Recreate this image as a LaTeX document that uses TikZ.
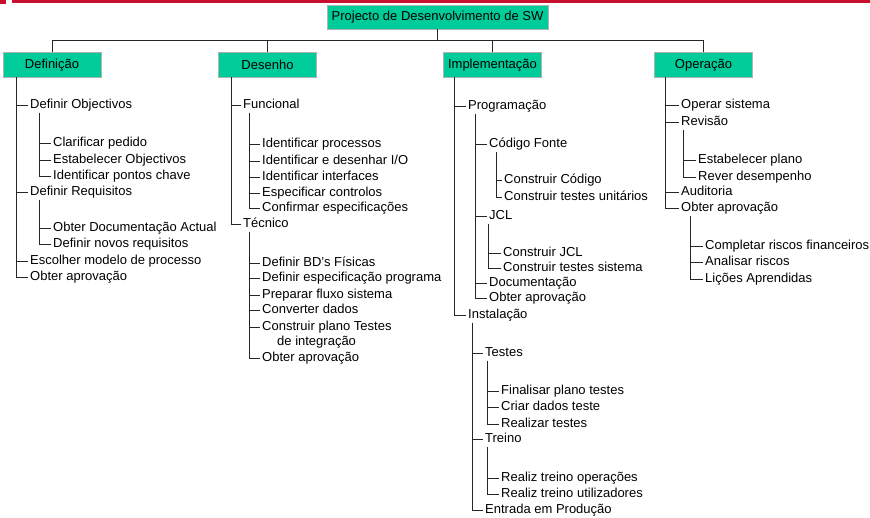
\documentclass[tikz,border=0pt]{standalone}
\usepackage{fontspec}
\setmainfont{Liberation Sans}
\definecolor{boxgreen}{RGB}{0,204,153}
\definecolor{barred}{RGB}{200,16,46}
\begin{document}
\begin{tikzpicture}[x=1pt,y=-1pt,
  lbl/.style={anchor=west, inner sep=2pt, font=\fontsize{13}{15}\selectfont, text height=9.5pt, text depth=3pt},
  hbox/.style={draw=black!30, line width=0.6pt, fill=boxgreen, minimum width=98pt, minimum height=25pt, inner sep=0pt, font=\fontsize{13}{15}\selectfont},
  conn/.style={draw=black!85, line width=0.9pt}]
\useasboundingbox (0,0) rectangle (870,518);
\fill[barred] (0,0) rectangle (6,4);
\fill[barred] (12,0) rectangle (870,3);

% headers
\node[hbox, minimum width=221pt, minimum height=24pt] (root) at (437.5,17) {Projecto de Desenvolvimento de SW};
\node[hbox] (def) at (52,65) {Definição};
\node[hbox] (des) at (267.5,65) {Desenho};
\node[hbox] (imp) at (492.5,65) {Implementação};
\node[hbox] (ope) at (703.5,65) {Operação};
\coordinate (bar) at (0,40);
\draw[conn] (root.south) -- (root.south |- bar);
\draw[conn] (def.north) -- (def.north |- bar) -- (ope.north |- bar) -- (ope.north);
\draw[conn] (des.north) -- (des.north |- bar);
\draw[conn] (imp.north) -- (imp.north |- bar);

% ---- Definição
\coordinate (tdef) at (16,77.5);
\node[lbl] (d1) at (28,105) {Definir Objectivos};
\coordinate (td1) at (39,113);
\node[lbl] (d11) at (51,143) {Clarificar pedido};
\node[lbl] (d12) at (51,160) {Estabelecer Objectivos};
\node[lbl] (d13) at (51,176) {Identificar pontos chave};
\node[lbl] (d2) at (28,192) {Definir Requisitos};
\coordinate (td2) at (39,200);
\node[lbl] (d21) at (51,228) {Obter Documentação Actual};
\node[lbl] (d22) at (51,244) {Definir novos requisitos};
\node[lbl] (d3) at (28,261) {Escolher modelo de processo};
\node[lbl] (d4) at (28,277) {Obter aprovação};
\foreach \n in {d1,d2,d3,d4} \draw[conn] (tdef) |- (\n.west);
\foreach \n in {d11,d12,d13} \draw[conn] (td1) |- (\n.west);
\foreach \n in {d21,d22} \draw[conn] (td2) |- (\n.west);

% ---- Desenho
\coordinate (tdes) at (231,77.5);
\node[lbl] (e1) at (241,105) {Funcional};
\coordinate (te1) at (249,113);
\node[lbl] (e11) at (260,144) {Identificar processos};
\node[lbl] (e12) at (260,161) {Identificar e desenhar I/O};
\node[lbl] (e13) at (260,177) {Identificar interfaces};
\node[lbl] (e14) at (260,193) {Especificar controlos};
\node[lbl] (e15) at (260,208) {Confirmar especificações};
\node[lbl] (e2) at (241,224) {Técnico};
\coordinate (te2) at (249,232);
\node[lbl] (e21) at (260,263) {Definir BD's Físicas};
\node[lbl] (e22) at (260,278) {Definir especificação programa};
\node[lbl] (e23) at (260,295) {Preparar fluxo sistema};
\node[lbl] (e24) at (260,310) {Converter dados};
\node[lbl] (e25) at (260,327) {Construir plano Testes};
\node[lbl] (e25b) at (275,342) {de integração};
\node[lbl] (e26) at (260,358) {Obter aprovação};
\foreach \n in {e1,e2} \draw[conn] (tdes) |- (\n.west);
\foreach \n in {e11,e12,e13,e14,e15} \draw[conn] (te1) |- (\n.west);
\foreach \n in {e21,e22,e23,e24,e25,e26} \draw[conn] (te2) |- (\n.west);

% ---- Implementação
\coordinate (timp) at (454,77.5);
\node[lbl] (i1) at (466,106) {Programação};
\coordinate (ti1) at (475,114);
\node[lbl] (i11) at (487,144) {Código Fonte};
\coordinate (ti11) at (496,152);
\node[lbl] (i111) at (502,180) {Construir Código};
\node[lbl] (i112) at (502,197) {Construir testes unitários};
\node[lbl] (i12) at (487,216) {JCL};
\coordinate (ti12) at (488,224);
\node[lbl] (i121) at (501,253) {Construir JCL};
\node[lbl] (i122) at (501,268) {Construir testes sistema};
\node[lbl] (i13) at (487,283) {Documentação};
\node[lbl] (i14) at (487,298) {Obter aprovação};
\node[lbl] (i2) at (466,315) {Instalação};
\coordinate (ti2) at (472,323);
\node[lbl] (i21) at (483,353) {Testes};
\coordinate (ti21) at (487,361);
\node[lbl] (i211) at (499,391) {Finalisar plano testes};
\node[lbl] (i212) at (499,407) {Criar dados teste};
\node[lbl] (i213) at (499,424) {Realizar testes};
\node[lbl] (i22) at (483,439) {Treino};
\coordinate (ti22) at (487,447);
\node[lbl] (i221) at (499,478) {Realiz treino operações};
\node[lbl] (i222) at (499,494) {Realiz treino utilizadores};
\node[lbl] (i23) at (483,510) {Entrada em Produção};
\foreach \n in {i1,i2} \draw[conn] (timp) |- (\n.west);
\foreach \n in {i11,i12,i13,i14} \draw[conn] (ti1) |- (\n.west);
\foreach \n in {i111,i112} \draw[conn] (ti11) |- (\n.west);
\foreach \n in {i121,i122} \draw[conn] (ti12) |- (\n.west);
\foreach \n in {i21,i22,i23} \draw[conn] (ti2) |- (\n.west);
\foreach \n in {i211,i212,i213} \draw[conn] (ti21) |- (\n.west);
\foreach \n in {i221,i222} \draw[conn] (ti22) |- (\n.west);

% ---- Operação
\coordinate (tope) at (665,77.5);
\node[lbl] (o1) at (679,105) {Operar sistema};
\node[lbl] (o2) at (679,122) {Revisão};
\coordinate (to2) at (683,130);
\node[lbl] (o21) at (696,160) {Estabelecer plano};
\node[lbl] (o22) at (696,177) {Rever desempenho};
\node[lbl] (o3) at (679,192) {Auditoria};
\node[lbl] (o4) at (679,208) {Obter aprovação};
\coordinate (to4) at (690,216);
\node[lbl] (o41) at (703,246) {Completar riscos financeiros};
\node[lbl] (o42) at (703,262) {Analisar riscos};
\node[lbl] (o43) at (703,279) {Lições Aprendidas};
\foreach \n in {o1,o2,o3,o4} \draw[conn] (tope) |- (\n.west);
\foreach \n in {o21,o22} \draw[conn] (to2) |- (\n.west);
\foreach \n in {o41,o42,o43} \draw[conn] (to4) |- (\n.west);
\end{tikzpicture}
\end{document}
